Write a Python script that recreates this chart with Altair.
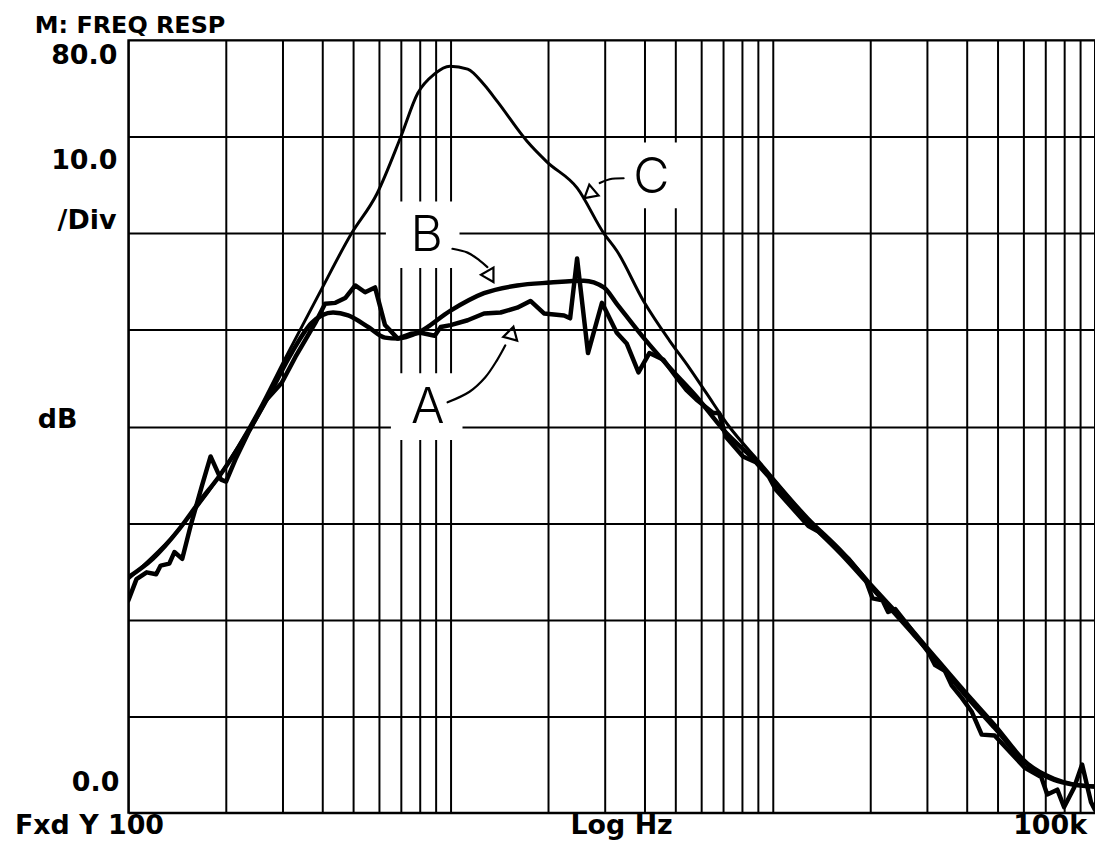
import altair as alt
import pandas as pd

# ---- grid (log frequency, 10 dB / div) ----
GRID_FREQ = [100, 200, 300, 400, 500, 600, 700, 800, 900,
             1000, 2000, 3000, 4000, 5000, 6000, 7000, 8000, 9000,
             10000, 20000, 30000, 40000, 50000, 60000, 70000, 80000, 90000, 100000]
GRID_DB = [0, 10, 20, 30, 40, 50, 60, 70, 80]

# ---- trace A (measured, jagged) ----
A_FREQ = [100, 106, 114, 122, 126, 134, 139, 147, 156, 169,
          180, 194, 201, 215, 236, 267, 299, 330, 380, 408,
          439, 471, 506, 543, 583, 626, 686, 753, 808, 893,
          932, 1000, 1130, 1270, 1430, 1610, 1770, 1950, 2250, 2350,
          2470, 2670, 2950, 3280, 3520, 3830, 4140, 4580, 5020, 5390,
          5790, 6530, 6810, 7160, 8080, 8860, 9720, 10200, 12900, 13900,
          17200, 19400, 20400, 21900, 22800, 24000, 26300, 30300, 31900, 34200,
          35900, 38600, 41400, 44500, 48800, 60400, 68100, 71100, 76400, 80200,
          86100, 91200, 97200, 100000]
A_DB = [22.0, 24.2, 24.9, 24.7, 25.6, 25.8, 27.0, 26.3, 29.7, 33.8,
        36.9, 34.5, 34.3, 36.6, 39.4, 42.7, 44.5, 47.2, 50.7, 52.7,
        52.8, 53.3, 54.6, 53.9, 54.4, 50.5, 49.1, 49.6, 49.7, 49.4,
        50.3, 50.5, 51.0, 51.7, 51.8, 52.3, 53.0, 51.7, 51.5, 51.2,
        57.4, 47.6, 52.8, 49.7, 48.6, 45.6, 47.6, 46.9, 45.1, 43.8,
        42.8, 41.4, 41.4, 38.9, 36.9, 36.3, 34.8, 33.5, 29.7, 29.1,
        26.3, 24.2, 22.2, 22.0, 20.8, 21.1, 19.4, 16.7, 15.3, 14.7,
        13.2, 11.9, 10.5, 8.1, 8.0, 4.7, 3.7, 1.9, 2.4, 0.6,
        2.6, 5.0, 1.1, 0.3]

# ---- trace B (smooth, thick) ----
B_FREQ = [100, 119, 144, 166, 191, 231, 272, 321, 370, 432,
          481, 555, 626, 686, 791, 1000, 1270, 1610, 2040, 2590,
          2990, 3280, 3970, 4780, 5790, 7010, 9050, 12900, 16400, 19800,
          26300, 30300, 40300, 48800, 61700, 74700, 86100, 100000]
B_DB = [24.4, 26.3, 29.4, 32.2, 34.8, 39.0, 43.1, 47.6, 50.7, 51.8,
        51.5, 50.3, 49.2, 49.1, 49.7, 52.0, 53.8, 54.6, 54.9, 55.1,
        54.4, 52.7, 49.2, 46.1, 43.1, 39.7, 36.1, 30.2, 26.7, 23.7,
        19.1, 16.8, 11.9, 8.8, 5.0, 3.4, 2.9, 2.7]

# ---- trace C (resonant peak, thin) ----
C_FREQ = [100, 144, 191, 254, 305, 389, 491, 591, 701, 791,
          892, 995, 1130, 1270, 1400, 1730, 1990, 2470, 2990, 3280,
          3970, 4780, 5500, 6210, 7320, 9050, 12900, 16400, 19800, 26300,
          30300, 40300, 48800, 61700, 74700, 86100, 100000]
C_DB = [24.2, 29.4, 34.8, 41.7, 46.9, 53.6, 59.9, 64.1, 70.0, 74.5,
        76.5, 77.3, 77.0, 75.4, 73.6, 69.5, 67.4, 64.7, 60.0, 58.2,
        53.0, 48.9, 46.1, 43.5, 40.0, 36.4, 30.5, 27.1, 24.0, 19.5,
        17.1, 12.3, 9.2, 5.2, 3.6, 3.0, 2.8]

# ---- hand annotations (letters, arrows, white-out patches) in Hz / dB ----
ANNOT_TEXT = ["A", "B", "C"]
ANNOT_FREQ = [849, 843, 4200]
ANNOT_DB = [40.4, 58.2, 64.2]

MASK_F1 = [653, 630, 3467]
MASK_F2 = [1089, 1066, 5387]
MASK_DB1 = [38.6, 56.4, 62.6]
MASK_DB2 = [45.5, 63.3, 69.4]

ARROW_ID = ["A"] * 5 + ["B"] * 4 + ["C"] * 3
ARROW_FREQ = [979, 1145, 1282, 1396, 1479,
              1014, 1129, 1229, 1301,
              3444, 3118, 2904]
ARROW_DB = [42.5, 43.6, 45.1, 46.9, 48.4,
            58.4, 58.0, 57.2, 56.5,
            65.7, 65.6, 65.2]

HEAD_FREQ = [1543, 1319, 2723]
HEAD_DB = [49.5, 55.7, 64.2]
HEAD_ANGLE = [15, 150, 230]

# ---- screen texts ----
TXT_TITLE = "M: FREQ RESP"
TXT_TOP = "80.0"
TXT_SCALE = "10.0"
TXT_DIV = "/Div"
TXT_UNIT = "dB"
TXT_BOTTOM = "0.0"
TXT_START = "Fxd Y 100"
TXT_XMODE = "Log Hz"
TXT_STOP = "100k"

x_scale = alt.Scale(type="log", domain=[100, 100000], nice=False)
y_scale = alt.Scale(domain=[0, 80], nice=False, zero=False)
x_axis = alt.Axis(values=GRID_FREQ, grid=True, labels=False, ticks=False, domain=False,
                  title=None, gridColor="black", gridWidth=2, gridOpacity=1)
y_axis = alt.Axis(values=GRID_DB, grid=True, labels=False, ticks=False, domain=False,
                  title=None, gridColor="black", gridWidth=2, gridOpacity=1)


def xy():
    return dict(x=alt.X("f:Q", scale=x_scale, axis=x_axis),
                y=alt.Y("db:Q", scale=y_scale, axis=y_axis))


def trace(freq, db, width, interp):
    df = pd.DataFrame({"f": freq, "db": db, "i": list(range(len(freq)))})
    return alt.Chart(df).mark_line(color="black", strokeWidth=width, strokeJoin="round",
                                   strokeCap="round", interpolate=interp, clip=True).encode(
        **xy(), order="i:Q")


def label(text, x, y, align, size=27):
    return alt.Chart(pd.DataFrame({"t": [text]})).mark_text(
        align=align, baseline="alphabetic", font="DejaVu Sans", fontWeight="bold",
        fontSize=size, color="black").encode(x=alt.value(x), y=alt.value(y), text="t:N")


masks = alt.Chart(pd.DataFrame({"f": MASK_F1, "f2": MASK_F2, "db": MASK_DB1, "db2": MASK_DB2})).mark_rect(
    color="white", opacity=1).encode(**xy(), x2="f2:Q", y2="db2:Q")

trace_a = trace(A_FREQ, A_DB, 4.5, "linear")
trace_b = trace(B_FREQ, B_DB, 4.5, "monotone")
trace_c = trace(C_FREQ, C_DB, 3, "monotone")

letters = alt.Chart(pd.DataFrame({"t": ANNOT_TEXT, "f": ANNOT_FREQ, "db": ANNOT_DB})).mark_text(
    font="Inter", fontWeight=300, fontSize=50, align="center", baseline="alphabetic",
    color="black").encode(**xy(), text="t:N")

arrow_df = pd.DataFrame({"id": ARROW_ID, "f": ARROW_FREQ, "db": ARROW_DB,
                         "i": list(range(len(ARROW_ID)))})
arrows = alt.Chart(arrow_df).mark_line(color="black", strokeWidth=2.2, interpolate="cardinal",
                                       strokeCap="round").encode(**xy(), detail="id:N", order="i:Q")

heads = alt.Chart(pd.DataFrame({"f": HEAD_FREQ, "db": HEAD_DB, "a": HEAD_ANGLE})).mark_point(
    shape="triangle", filled=False, color="black", strokeWidth=2.2, size=210, opacity=1).encode(
    **xy(), angle=alt.Angle("a:Q", scale=None))

labels = [
    label(TXT_TITLE, -94, -7, "left", 24),
    label(TXT_TOP, -11, 24, "right"),
    label(TXT_SCALE, -11, 130, "right"),
    label(TXT_DIV, -12, 190, "right"),
    label(TXT_UNIT, -91, 390, "left"),
    label(TXT_BOTTOM, -9, 755, "right"),
    label(TXT_START, -114, 798, "left"),
    label(TXT_XMODE, 496, 798, "center"),
    label(TXT_STOP, 964, 798, "right"),
]

chart = alt.layer(masks, trace_c, trace_b, trace_a, arrows, heads, letters, *labels).properties(
    width=972, height=777,
    padding={"left": 121, "top": 30, "right": 0, "bottom": 28},
    autosize=alt.AutoSizeParams(type="none"),
    background="white",
).configure_view(stroke="black", strokeWidth=2)

chart.save("out.html", embed_options={"renderer": "svg", "actions": False})
